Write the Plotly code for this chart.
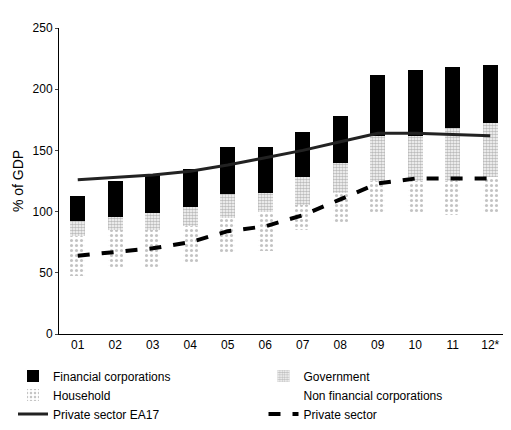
import plotly.graph_objects as go

years = ["01", "02", "03", "04", "05", "06", "07", "08", "09", "10", "11", "12*"]
non_financial = [47, 55, 55, 58, 67, 68, 85, 90, 98, 100, 97, 98]
household = [33, 30, 30, 30, 28, 32, 20, 25, 27, 25, 28, 30]
government = [12, 11, 14, 16, 19, 15, 23, 25, 37, 37, 43, 44]
financial = [21, 29, 31, 31, 39, 38, 37, 38, 50, 54, 50, 48]
private_ea17 = [126, 128, 130, 133, 138, 144, 150, 157, 164, 164, 163, 162]
private_sector = [64, 67, 70, 75, 84, 88, 97, 110, 123, 127, 127, 127]

font = dict(family="Arial, Liberation Sans, sans-serif", size=12, color="black")

fig = go.Figure()
fig.add_bar(x=years, y=non_financial, name="Non financial corporations",
            marker=dict(color="rgba(0,0,0,0)", line_width=0), legendrank=4)
fig.add_bar(x=years, y=household, name="Household", legendrank=3,
            marker=dict(color="white", line_width=0,
                        pattern=dict(shape=".", fgcolor="#888", size=5, solidity=0.3)))
fig.add_bar(x=years, y=government, name="Government", legendrank=2,
            marker=dict(color="white", line_width=0,
                        pattern=dict(shape=".", fgcolor="#777", size=3, solidity=0.6)))
fig.add_bar(x=years, y=financial, name="Financial corporations", legendrank=1,
            marker=dict(color="black", line_width=0))
fig.add_scatter(x=years, y=private_ea17, name="Private sector EA17", mode="lines",
                line=dict(color="#222", width=3), legendrank=5)
fig.add_scatter(x=years, y=private_sector, name="Private sector", mode="lines",
                line=dict(color="black", width=4, dash="dash"), legendrank=6)

fig.update_layout(
    width=511, height=430, barmode="stack", bargap=0.6,
    plot_bgcolor="white", paper_bgcolor="white", font=font,
    margin=dict(l=45, r=10, t=20, b=100),
    yaxis=dict(title=dict(text="% of GDP", standoff=5), range=[0, 250], dtick=50,
               showgrid=False, showline=True, linecolor="black", ticks="outside", ticklen=3),
    xaxis=dict(showline=True, linecolor="black", ticks="", showgrid=False),
    legend=dict(orientation="h", x=-0.08, y=-0.09, yanchor="top", traceorder="normal",
                entrywidth=0.5, entrywidthmode="fraction",
                tracegroupgap=0, font=dict(size=12)),
)
fig.write_html("out.html")
